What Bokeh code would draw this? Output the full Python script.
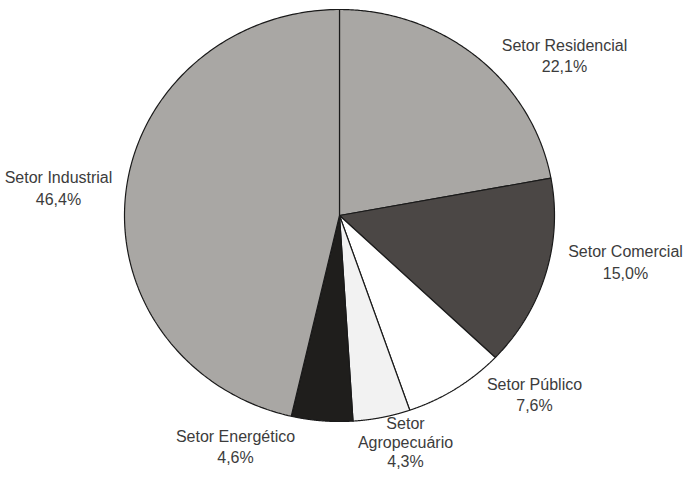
import numpy as np
from bokeh.plotting import figure
from bokeh.models import Range1d, ColumnDataSource
from bokeh.core.properties import value
from bokeh.embed import file_html
from bokeh.resources import INLINE

# ---- data (clockwise from 12 o'clock) ----
sectors = ["Setor Residencial", "Setor Comercial", "Setor Público",
           "Setor\nAgropecuário", "Setor Energético", "Setor Industrial"]
shares = [22.1, 15.0, 7.6, 4.3, 4.6, 46.4]
share_labels = ["22,1%", "15,0%", "7,6%", "4,3%", "4,6%", "46,4%"]

# ---- styles / layout ----
colors = ["#a9a7a4", "#4b4745", "#ffffff", "#f2f2f2", "#1f1e1c", "#a9a7a4"]
W, H = 683, 469
CX, CY = 339, 215          # pie centre in canvas px
RX, RY = 215, 206          # pie radii in px
# label block centres (canvas px)
label_px = [(564, 55.5), (625, 262), (534, 394.5), (405, 442), (235, 446.5), (58, 188)]
line_heights = [1.25, 1.3, 1.2, 1.1, 1.2, 1.25]

p = figure(width=W, height=H, output_backend="svg", toolbar_location=None,
           x_range=Range1d(-CX / RX, (W - CX) / RX),
           y_range=Range1d(-(H - CY) / RY, CY / RY),
           min_border=0)
p.axis.visible = False
p.grid.visible = False
p.outline_line_color = None
p.background_fill_color = "white"
p.border_fill_color = "white"

fr = np.array(shares) / sum(shares)
cum = np.concatenate([[0], np.cumsum(fr)])
xs, ys = [], []
for i in range(len(shares)):
    t = np.linspace(cum[i], cum[i + 1], 200)
    th = np.pi / 2 - 2 * np.pi * t
    xs.append(np.concatenate([[0], np.cos(th), [0]]).tolist())
    ys.append(np.concatenate([[0], np.sin(th), [0]]).tolist())

src = ColumnDataSource(dict(xs=xs, ys=ys, color=colors))
p.patches("xs", "ys", source=src, fill_color="color", line_color="#1a1a1a", line_width=1.2)

lx = [(x - CX) / RX for x, y in label_px]
ly = [(CY - y) / RY for x, y in label_px]
texts = [f"{s}\n{v}" for s, v in zip(sectors, share_labels)]
tsrc = ColumnDataSource(dict(x=lx, y=ly, text=texts, lh=line_heights))
p.text("x", "y", text="text", source=tsrc, text_align="center", text_baseline="middle",
       text_font=value("Liberation Sans"), text_font_size="16px", text_color="#3c3c3c",
       text_line_height="lh")

open("out.html", "w").write(file_html(p, INLINE))
